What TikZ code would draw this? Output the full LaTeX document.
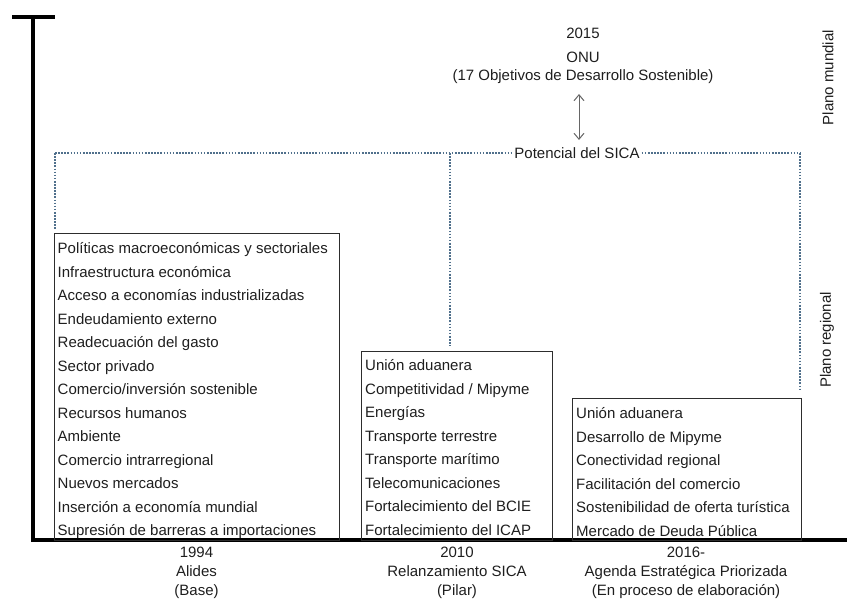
\documentclass[tikz,border=0pt]{standalone}
\usepackage{fontspec}
\setmainfont{Liberation Sans}
\usetikzlibrary{arrows.meta}
\definecolor{dotblue}{RGB}{80,112,140}
\definecolor{txt}{RGB}{30,30,30}
\definecolor{boxline}{RGB}{45,45,45}
\tikzset{
  axisline/.style={line width=3.8pt, black},
  dotline/.style={dotblue, line width=1.8pt, dash pattern=on 1.6pt off 1.5pt},
  itembox/.style={draw=boxline, line width=1.2pt},
  itemtxt/.style={font=\fontsize{15}{18}\selectfont, text=txt, inner sep=0pt, anchor=base west},
  lbl/.style={font=\fontsize{15}{18}\selectfont, text=txt, inner sep=0pt, anchor=base},
  sidelbl/.style={font=\fontsize{15}{18}\selectfont, text=txt, inner sep=0pt, rotate=90},
  dblarrow/.style={gray!80!black, line width=1pt, {Straight Barb[length=6pt,width=10pt]}-{Straight Barb[length=6pt,width=10pt]}}
}
\begin{document}
\begin{tikzpicture}[x=1pt,y=-1pt]
\useasboundingbox (0,0) rectangle (847,600);
% axes
\coordinate (capL) at (12,17);
\coordinate (capR) at (55,17);
\coordinate (top) at (33,17);
\coordinate (origin) at (33,540);
\coordinate (xend) at (847,540);
\draw[axisline] (capL) -- (capR);
\draw[axisline] (top) -- (origin);
\draw[axisline, line cap=rect] (origin) -- (xend);
% boxes
\node[itembox, anchor=north west, minimum width=285pt, minimum height=307pt, inner sep=0pt] (b1) at (54,233) {};
\node[itembox, anchor=north west, minimum width=191pt, minimum height=189pt, inner sep=0pt] (b2) at (361,351) {};
\node[itembox, anchor=north west, minimum width=229pt, minimum height=142pt, inner sep=0pt] (b3) at (572,398) {};
\foreach \t [count=\i] in {Políticas macroeconómicas y sectoriales, Infraestructura económica, Acceso a economías industrializadas, Endeudamiento externo, Readecuación del gasto, Sector privado, Comercio/inversión sostenible, Recursos humanos, Ambiente, Comercio intrarregional, Nuevos mercados, Inserción a economía mundial, Supresión de barreras a importaciones}
  \node[itemtxt] (a\i) at (57.5,{253.5+23.5*(\i-1)}) {\t};
\foreach \t [count=\i] in {Unión aduanera, Competitividad / Mipyme, Energías, Transporte terrestre, Transporte marítimo, Telecomunicaciones, Fortalecimiento del BCIE, Fortalecimiento del ICAP}
  \node[itemtxt] (p\i) at (365,{370.5+23.5*(\i-1)}) {\t};
\foreach \t [count=\i] in {Unión aduanera, Desarrollo de Mipyme, Conectividad regional, Facilitación del comercio, Sostenibilidad de oferta turística, Mercado de Deuda Pública}
  \node[itemtxt] (e\i) at (576,{418.5+23.5*(\i-1)}) {\t};
% labels under axis
\node[lbl] (l1a) at (196.5,557.5) {1994};
\node[lbl] (l1b) at (196.5,576.5) {Alides};
\node[lbl] (l1c) at (196.5,595) {(Base)};
\node[lbl] (l2a) at (457,557.5) {2010};
\node[lbl] (l2b) at (457,576.5) {Relanzamiento SICA};
\node[lbl] (l2c) at (457,595) {(Pilar)};
\node[lbl] (l3a) at (686,557.5) {2016-};
\node[lbl] (l3b) at (686,576.5) {Agenda Estratégica Priorizada};
\node[lbl] (l3c) at (686,595) {(En proceso de elaboración)};
% top
\node[lbl] (y2015) at (583,38.5) {2015};
\node[lbl] (onu) at (583,62.5) {ONU};
\node[lbl] (sdg) at (583,80.5) {(17 Objetivos de Desarrollo Sostenible)};
\node[font=\fontsize{15}{18}\selectfont, text=txt, inner sep=2pt] (pot) at (577,153) {Potencial del SICA};
\coordinate (arrT) at (579,94);
\coordinate (arrB) at (579,140);
\draw[dblarrow] (arrT) -- (arrB);
% dotted frame
\coordinate (dL) at (55,153);
\coordinate (dR) at (800,153);
\coordinate (dM) at (450,153);
\coordinate (dLb) at (55,230);
\coordinate (dMb) at (450,346);
\coordinate (dRb) at (800,389);
\draw[dotline] (dL) -- (pot.west);
\draw[dotline] (pot.east) -- (dR);
\draw[dotline] (dL) -- (dLb);
\draw[dotline] (dM) -- (dMb);
\draw[dotline] (dR) -- (dRb);
% side labels
\node[sidelbl] (pm) at (828,77.5) {Plano mundial};
\node[sidelbl] (pr) at (827,340) {Plano regional};
\end{tikzpicture}
\end{document}
